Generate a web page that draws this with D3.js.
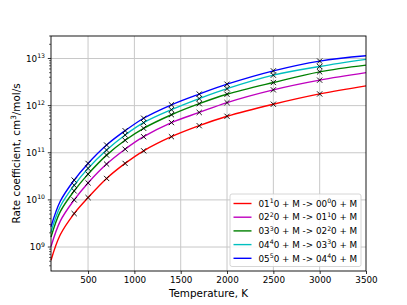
<!DOCTYPE html>
<html>
<head>
<meta charset="utf-8">
<script src="https://cdn.jsdelivr.net/npm/d3@7"></script>
<style>
  body { margin: 0; background: #fff; }
  text { font-family: "DejaVu Sans", sans-serif; fill: #000; }
</style>
</head>
<body>
<div id="chart"></div>
<script>
// temperatures (K) the curves were read at
const temps = [100, 200, 350, 500, 700, 900, 1100, 1400, 1700, 2000, 2500, 3000, 3500];
// temperatures with black x markers
const markerTemps = [350, 500, 700, 900, 1100, 1400, 1700, 2000, 2500, 3000];

const k01 = [5.25e8, 1.82e9, 5.13e9, 1.12e10, 2.85e10, 5.94e10, 1.10e11, 2.19e11, 3.75e11, 5.94e11, 1.07e12, 1.77e12, 2.63e12];
const k02 = [1.02e9, 3.55e9, 1.0e10, 2.29e10, 5.75e10, 1.19e11, 2.19e11, 4.37e11, 7.16e11, 1.16e12, 2.16e12, 3.47e12, 5.0e12];
const k03 = [1.62e9, 5.62e9, 1.55e10, 3.52e10, 8.91e10, 1.84e11, 3.30e11, 6.40e11, 1.10e12, 1.74e12, 3.09e12, 5.21e12, 7.24e12];
const k04 = [2.09e9, 7.24e9, 2.04e10, 4.66e10, 1.14e11, 2.38e11, 4.35e11, 8.20e11, 1.41e12, 2.29e12, 4.43e12, 6.76e12, 9.55e12];
const k05 = [2.69e9, 9.33e9, 2.63e10, 5.94e10, 1.46e11, 2.94e11, 5.40e11, 1.04e12, 1.76e12, 2.85e12, 5.47e12, 8.81e12, 1.14e13];

// legend labels split into pieces so the superscripts can be drawn
const labels = [
  ["01", "1", "0 + M -> 00", "0", "0 + M"],
  ["02", "2", "0 + M -> 01", "1", "0 + M"],
  ["03", "3", "0 + M -> 02", "2", "0 + M"],
  ["04", "4", "0 + M -> 03", "3", "0 + M"],
  ["05", "5", "0 + M -> 04", "4", "0 + M"]
];
const colors = ["#ff0000", "#bf00bf", "#008000", "#00bfbf", "#0000ff"];
const series = [k01, k02, k03, k04, k05];

const xTicks = [500, 1000, 1500, 2000, 2500, 3000, 3500];
const yTicks = [1e9, 1e10, 1e11, 1e12, 1e13];

const W = 407, H = 305;
const margin = {top: 36, right: 41, bottom: 34, left: 51};
const width = W - margin.left - margin.right;
const height = H - margin.top - margin.bottom;

const svg = d3.select("#chart").append("svg")
  .attr("width", W).attr("height", H);

const x = d3.scaleLinear().domain([100, 3500]).range([0, width]);
const y = d3.scaleLog().domain([3.1e8, 3.0e13]).range([height, 0]);

const g = svg.append("g").attr("transform", `translate(${margin.left},${margin.top})`);

// grid
g.append("g").selectAll("line").data(xTicks.slice(0, -1)).enter().append("line")
  .attr("x1", d => x(d)).attr("x2", d => x(d))
  .attr("y1", 0).attr("y2", height)
  .attr("stroke", "#c8c8c8").attr("stroke-width", 1);
g.append("g").selectAll("line").data(yTicks).enter().append("line")
  .attr("x1", 0).attr("x2", width)
  .attr("y1", d => y(d)).attr("y2", d => y(d))
  .attr("stroke", "#c8c8c8").attr("stroke-width", 1);

// curves
const line = d3.line()
  .x(d => x(d[0]))
  .y(d => y(d[1]))
  .curve(d3.curveCatmullRom.alpha(0.5));

const plot = g.append("g");
series.forEach((s, i) => {
  const pts = temps.map((t, j) => [t, s[j]]);
  plot.append("path")
    .attr("d", line(pts))
    .attr("fill", "none")
    .attr("stroke", colors[i])
    .attr("stroke-width", 1.4);
});

// markers
const m = 2.6;
series.forEach(s => {
  const pts = temps.map((t, j) => [t, s[j]]).filter(p => markerTemps.includes(p[0]));
  plot.append("g").selectAll("path").data(pts).enter().append("path")
    .attr("d", d => {
      const px = x(d[0]), py = y(d[1]);
      return `M${px - m},${py - m}L${px + m},${py + m}M${px - m},${py + m}L${px + m},${py - m}`;
    })
    .attr("stroke", "#000").attr("stroke-width", 0.9);
});

// x axis
const xAxis = d3.axisBottom(x).tickValues(xTicks).tickSize(3).tickPadding(3).tickFormat(d3.format("d"));
const gx = g.append("g").attr("transform", `translate(0,${height})`).call(xAxis);
gx.select(".domain").remove();
gx.selectAll("text").attr("font-size", 8.8).attr("font-family", "DejaVu Sans");
gx.selectAll("line").attr("stroke-width", 0.8);

// y axis (log, minor ticks)
const minor = [];
for (let e = 8; e <= 13; e++) {
  for (let k = 2; k <= 9; k++) {
    const v = k * Math.pow(10, e);
    if (v >= 3.1e8 && v <= 3.0e13) minor.push(v);
  }
}
g.append("g").selectAll("line").data(minor).enter().append("line")
  .attr("x1", -2).attr("x2", 0)
  .attr("y1", d => y(d)).attr("y2", d => y(d))
  .attr("stroke", "#000").attr("stroke-width", 0.6);
g.append("g").selectAll("line").data(yTicks).enter().append("line")
  .attr("x1", -3.2).attr("x2", 0)
  .attr("y1", d => y(d)).attr("y2", d => y(d))
  .attr("stroke", "#000").attr("stroke-width", 0.8);
const yl = g.append("g").selectAll("text").data(yTicks).enter().append("text")
  .attr("x", -6).attr("y", d => y(d) + 3.3)
  .attr("text-anchor", "end").attr("font-size", 8.8);
yl.append("tspan").text("10");
yl.append("tspan").attr("font-size", 6.2).attr("dy", -3.8).text(d => Math.round(Math.log10(d)));

// frame
g.append("rect").attr("width", width).attr("height", height)
  .attr("fill", "none").attr("stroke", "#000").attr("stroke-width", 0.9);

// axis labels
svg.append("text")
  .attr("x", margin.left + width / 2).attr("y", 297)
  .attr("text-anchor", "middle").attr("font-size", 10.4)
  .text("Temperature, K");
const ylab = svg.append("text")
  .attr("transform", `translate(20,${margin.top + height / 2}) rotate(-90)`)
  .attr("text-anchor", "middle").attr("font-size", 10.4);
ylab.append("tspan").text("Rate coefficient, cm");
ylab.append("tspan").attr("font-size", 7.3).attr("dy", -4).text("3");
ylab.append("tspan").attr("dy", 4).text("/mol/s");

// legend
const lg = svg.append("g").attr("transform", "translate(230,194)");
lg.append("rect").attr("width", 131).attr("height", 72.5).attr("rx", 2)
  .attr("fill", "#fff").attr("fill-opacity", 0.85)
  .attr("stroke", "#cccccc").attr("stroke-width", 0.8);
labels.forEach((lab, i) => {
  const cy = 9.5 + i * 13.7;
  lg.append("line").attr("x1", 3.5).attr("x2", 21.5).attr("y1", cy).attr("y2", cy)
    .attr("stroke", colors[i]).attr("stroke-width", 1.4);
  const t = lg.append("text").attr("x", 28.5).attr("y", cy + 3.2).attr("font-size", 8.8);
  t.append("tspan").text(lab[0]);
  t.append("tspan").attr("font-size", 6.2).attr("dy", -3.6).text(lab[1]);
  t.append("tspan").attr("dy", 3.6).text(lab[2]);
  t.append("tspan").attr("font-size", 6.2).attr("dy", -3.6).text(lab[3]);
  t.append("tspan").attr("dy", 3.6).text(lab[4]);
});
</script>
</body>
</html>
